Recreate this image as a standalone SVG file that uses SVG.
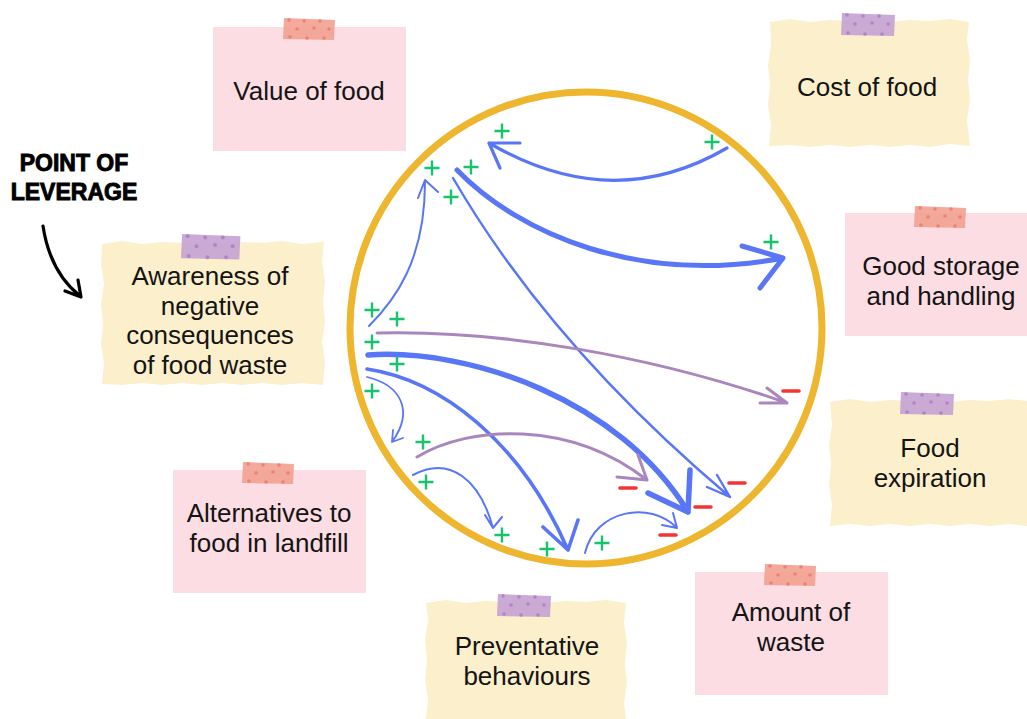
<svg xmlns="http://www.w3.org/2000/svg" width="1027" height="719" viewBox="0 0 1027 719">
<style>
.pink{fill:#FBDDE3}
.cream{fill:#FCEFCB}
.lbl{font-family:"Liberation Sans",Arial,sans-serif;font-size:26px;fill:#141414;text-anchor:middle}
.lev{font-family:"Liberation Sans",Arial,sans-serif;font-weight:bold;font-size:23px;fill:#000;stroke:#000;stroke-width:0.9;text-anchor:middle}
.b{fill:none;stroke:#5876F6;stroke-linecap:round;stroke-linejoin:round}
.p{fill:none;stroke:#A987BD;stroke-linecap:round;stroke-linejoin:round}
.plus{stroke:#17C46B;stroke-width:2.4;fill:none}
.minus{stroke:#F23434;stroke-width:3.6;stroke-linecap:round}
</style>
<defs>
<g id="tapeS">
<path d="M1,1 L52,3 L51,23 L0,22 Z" fill="#F2A292" opacity="0.92"/>
<g fill="#EA8472"><circle cx="6" cy="3" r="1.8"/><circle cx="21" cy="4" r="1.8"/><circle cx="37" cy="4" r="1.8"/><circle cx="14" cy="12" r="1.8"/><circle cx="31" cy="11" r="1.8"/><circle cx="46" cy="12" r="1.8"/><circle cx="7" cy="20" r="1.8"/><circle cx="24" cy="21" r="1.8"/><circle cx="41" cy="21" r="1.8"/></g>
</g>
<g id="tapeP">
<path d="M1,1 L54,3 L53,24 L0,23 Z" fill="#C6A4D2" opacity="0.92"/>
<g fill="#B284C6"><circle cx="6" cy="3" r="1.8"/><circle cx="22" cy="4" r="1.8"/><circle cx="38" cy="4" r="1.8"/><circle cx="14" cy="12" r="1.8"/><circle cx="31" cy="11" r="1.8"/><circle cx="47" cy="12" r="1.8"/><circle cx="7" cy="21" r="1.8"/><circle cx="24" cy="22" r="1.8"/><circle cx="41" cy="22" r="1.8"/></g>
</g>
<g id="plus"><path class="plus" d="M-7.5,0 H7.5 M0,-7.5 V7.5"/></g>
</defs>

<circle cx="586" cy="328" r="236" fill="none" stroke="#EEB52E" stroke-width="7"/>

<g id="value-of-food">
<rect x="213" y="27" width="193" height="124" class="pink"/>
<use href="#tapeS" x="283" y="17"/>
<text class="lbl" x="309" y="100">Value of food</text>
</g>

<g id="cost-of-food">
<path class="cream" d="M770,22 L790,19 L810,22 L830,20 L850,21 L870,19 L890,22 L910,20 L930,21 L950,19 L969,22 L967,40 L970,60 L968,80 L970,100 L967,120 L970,146 L950,144 L930,147 L910,145 L890,147 L870,145 L850,147 L830,145 L810,147 L790,145 L769,146 L771,125 L768,105 L770,85 L768,65 L771,45 Z"/>
<use href="#tapeP" x="841" y="12"/>
<text class="lbl" x="867" y="96">Cost of food</text>
</g>

<g id="good-storage">
<rect x="845" y="213" width="182" height="123" class="pink"/>
<use href="#tapeS" x="914" y="205"/>
<text class="lbl" x="941" y="275">Good storage</text>
<text class="lbl" x="941" y="305">and handling</text>
</g>

<g id="food-expiration">
<path class="cream" d="M830,402 L850,399 L870,402 L890,400 L910,401 L930,399 L950,402 L970,400 L990,401 L1010,399 L1027,401 L1027,526 L1010,524 L990,526 L970,524 L950,526 L930,524 L910,526 L890,524 L870,526 L850,524 L830,526 L832,505 L829,485 L831,465 L829,445 L832,425 Z"/>
<use href="#tapeP" x="900" y="391"/>
<text class="lbl" x="930" y="457">Food</text>
<text class="lbl" x="930" y="487">expiration</text>
</g>

<g id="amount-of-waste">
<rect x="695" y="572" width="193" height="123" class="pink"/>
<use href="#tapeS" x="764" y="563"/>
<text class="lbl" x="791" y="621">Amount of</text>
<text class="lbl" x="791" y="651">waste</text>
</g>

<g id="preventative">
<path class="cream" d="M426,603 L446,600 L466,603 L486,601 L506,602 L526,600 L546,603 L566,601 L586,602 L606,600 L626,603 L624,623 L627,643 L625,663 L627,683 L624,703 L626,719 L426,719 L428,700 L425,680 L427,660 L425,640 L428,620 Z"/>
<use href="#tapeP" x="497" y="593"/>
<text class="lbl" x="527" y="655">Preventative</text>
<text class="lbl" x="527" y="685">behaviours</text>
</g>

<g id="alternatives">
<rect x="173" y="470" width="193" height="123" class="pink"/>
<use href="#tapeS" x="242" y="461"/>
<text class="lbl" x="269" y="522">Alternatives to</text>
<text class="lbl" x="269" y="552">food in landfill</text>
</g>

<g id="awareness">
<path class="cream" d="M102,244 L122,241 L142,244 L162,242 L182,243 L202,241 L222,244 L242,242 L262,243 L282,241 L302,244 L324,242 L322,262 L325,282 L323,302 L325,322 L322,342 L325,362 L323,385 L302,383 L282,385 L262,383 L242,385 L222,383 L202,385 L182,383 L162,385 L142,383 L122,385 L102,384 L104,364 L101,344 L103,324 L101,304 L104,284 L101,264 Z"/>
<use href="#tapeP" transform="translate(181,233) scale(1.1)"/>
<text class="lbl" x="210" y="285">Awareness of</text>
<text class="lbl" x="210" y="315">negative</text>
<text class="lbl" x="210" y="344">consequences</text>
<text class="lbl" x="210" y="374">of food waste</text>
</g>

<g id="point-of-leverage">
<text class="lev" x="74" y="171">POINT OF</text>
<text class="lev" x="74" y="200">LEVERAGE</text>
<path d="M43,226 Q50,272 80,296 M65,291 L81,297 L78,280" fill="none" stroke="#000" stroke-width="3.2" stroke-linecap="round" stroke-linejoin="round"/>
</g>

<g id="connectors">
<path class="b" stroke-width="3.2" d="M727,148 Q612,215 489,143 M520,143 L489,143 L500,168"/>
<path class="b" stroke-width="5" d="M457,170 C520,235 640,285 783,258 M742,246 L783,258 L760,288"/>
<path class="b" stroke-width="2.4" d="M453,178 Q550,345 730,497 M707,487 L730,497 L717,475"/>
<path class="b" stroke-width="2" d="M369,326 C395,300 425,260 425,182 M418,198 L425,180 L438,192"/>
<path class="p" stroke-width="3" d="M377,333 C500,330 650,355 787,403 M760,403 L787,403 L767,388"/>
<path class="b" stroke-width="5.5" d="M368,355 C470,348 620,400 688,512 M648,493 L688,512 L690,470"/>
<path class="b" stroke-width="3.6" d="M367,369 C440,380 520,440 568,550 M543,527 L568,550 L578,520"/>
<path class="b" stroke-width="1.8" d="M367,377 C400,385 415,410 392,442 M403,438 L392,442 L393,430"/>
<path class="p" stroke-width="3" d="M417,457 C470,425 570,420 647,480 M617,477 L647,480 L638,455"/>
<path class="b" stroke-width="2" d="M413,475 C450,455 480,480 493,528 M485,515 L493,528 L502,517"/>
<path class="b" stroke-width="2" d="M585,553 C595,510 650,500 677,528 M662,525 L677,528 L673,513"/>
</g>

<g id="signs">
<use href="#plus" x="502" y="131"/>
<use href="#plus" x="712" y="142"/>
<use href="#plus" x="432" y="168"/>
<use href="#plus" x="471" y="167"/>
<use href="#plus" x="451" y="197"/>
<use href="#plus" x="771" y="242"/>
<use href="#plus" x="372" y="310"/>
<use href="#plus" x="397" y="319"/>
<use href="#plus" x="372" y="342"/>
<use href="#plus" x="397" y="364"/>
<use href="#plus" x="372" y="391"/>
<use href="#plus" x="423" y="442"/>
<use href="#plus" x="426" y="482"/>
<use href="#plus" x="502" y="535"/>
<use href="#plus" x="547" y="549"/>
<use href="#plus" x="602" y="543"/>
<path class="minus" d="M783,391 H799 M729,483 H745 M620,488 H636 M695,507 H711 M660,535 H676"/>
</g>
</svg>
